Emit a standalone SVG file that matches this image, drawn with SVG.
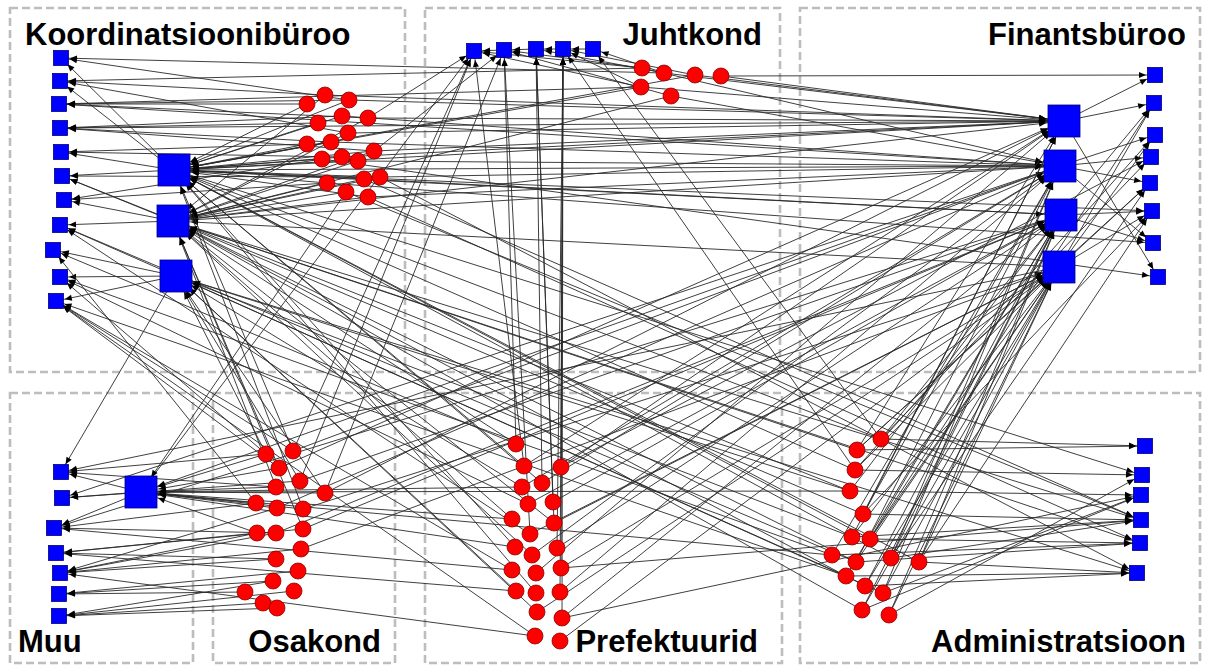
<svg xmlns="http://www.w3.org/2000/svg" width="1206" height="666" viewBox="0 0 1206 666">
<style>
.box{fill:none;stroke:#bdbdbd;stroke-width:2.6;stroke-dasharray:8 4}
.e path{fill:none;stroke:#2a2a2a;stroke-width:0.9}
.sq{fill:#0000ff;stroke:#00007a;stroke-width:0.8}
.ci{fill:#ff0000;stroke:#8a0000;stroke-width:0.8}
.lb{font-family:"Liberation Sans",Arial,sans-serif;font-weight:bold;font-size:31px;fill:#000}
</style>
<defs>
<marker id="s" markerUnits="userSpaceOnUse" markerWidth="7" markerHeight="6" refX="16" refY="3" orient="auto" overflow="visible"><path d="M0,0L7,3L0,6z" fill="#000"/></marker>
<marker id="b" markerUnits="userSpaceOnUse" markerWidth="7" markerHeight="6" refX="25" refY="3" orient="auto" overflow="visible"><path d="M0,0L7,3L0,6z" fill="#000"/></marker>
</defs>
<rect width="1206" height="666" fill="#fff"/>
<g id="groups">
<rect class="box" x="10" y="8" width="395" height="364"/>
<rect class="box" x="425" y="8" width="355" height="364"/>
<rect class="box" x="800" y="8" width="400" height="364"/>
<rect class="box" x="10" y="393" width="183" height="270"/>
<rect class="box" x="213" y="393" width="182" height="270"/>
<rect class="box" x="425" y="393" width="357" height="270"/>
<rect class="box" x="800" y="393" width="400" height="270"/>
</g>
<g id="connectors" class="e">
<g marker-end="url(#s)">
<path d="M307 104L59 104"/><path d="M325 95L60 81"/><path d="M349 100L59 104"/><path d="M318 123L60 128"/><path d="M342 116L60 128"/><path d="M368 118L59 104"/><path d="M307 144L61 152"/><path d="M331 142L60 128"/><path d="M322 159L64 200"/><path d="M374 151L60 128"/><path d="M327 183L64 200"/><path d="M348 133L60 81"/><path d="M342 157L61 152"/><path d="M349 100L61 58"/><path d="M380 177L62 176"/>
<path d="M174 170L61 58"/><path d="M174 170L60 81"/><path d="M174 170L61 152"/><path d="M174 170L62 176"/><path d="M173 221L64 200"/><path d="M173 221L60 225"/><path d="M176 276L53 250"/><path d="M176 276L60 277"/><path d="M173 221L62 176"/><path d="M176 276L60 225"/><path d="M176 276L56 301"/>
<path d="M642 68L60 81"/><path d="M664 73L61 58"/><path d="M641 87L59 104"/><path d="M1064 121L60 128"/><path d="M1060 166L59 104"/>
<path d="M528 504L60 277"/><path d="M512 570L56 301"/><path d="M530 534L60 225"/><path d="M535 636L56 301"/><path d="M516 444L53 250"/>
<path d="M266 454L60 277"/><path d="M279 468L56 301"/><path d="M256 503L53 250"/><path d="M293 451L56 301"/>
<path d="M832 555L60 277"/><path d="M856 562L60 225"/><path d="M850 491L62 176"/><path d="M846 576L56 301"/>
<path d="M593 49L563 49"/><path d="M563 49L536 49"/><path d="M536 49L504 50"/><path d="M504 50L474 51"/>
<path d="M642 68L474 51"/><path d="M642 68L504 50"/><path d="M641 87L474 51"/><path d="M664 73L536 49"/><path d="M671 96L504 50"/><path d="M641 87L563 49"/><path d="M695 75L563 49"/><path d="M664 73L593 49"/>
<path d="M368 118L474 51"/><path d="M374 151L504 50"/>
<path d="M561 467L563 49"/><path d="M557 548L563 49"/><path d="M561 568L563 49"/><path d="M554 523L536 49"/><path d="M553 502L536 49"/><path d="M560 592L563 49"/><path d="M516 444L504 50"/><path d="M524 466L474 51"/><path d="M542 483L536 49"/><path d="M562 618L563 49"/><path d="M530 534L504 50"/>
<path d="M293 451L474 51"/><path d="M300 481L474 51"/><path d="M325 493L504 50"/><path d="M141 492L474 51"/>
<path d="M855 470L563 49"/><path d="M881 439L593 49"/>
<path d="M1064 121L1155 75"/><path d="M1064 121L1154 103"/><path d="M1060 166L1151 157"/><path d="M1060 166L1150 183"/><path d="M1061 215L1153 243"/><path d="M1061 215L1152 211"/><path d="M1059 267L1155 135"/><path d="M1059 267L1150 183"/><path d="M1060 166L1155 135"/><path d="M1061 215L1154 103"/><path d="M1059 267L1154 103"/><path d="M1064 121L1158 277"/><path d="M1060 166L1153 243"/><path d="M1059 267L1152 211"/>
<path d="M721 76L1155 75"/>
<path d="M881 439L1151 157"/><path d="M857 450L1150 183"/><path d="M863 514L1152 211"/><path d="M855 470L1155 135"/><path d="M870 539L1154 103"/><path d="M891 558L1150 183"/><path d="M919 562L1152 211"/><path d="M561 467L1151 157"/>
<path d="M322 159L1158 277"/><path d="M327 183L1153 243"/><path d="M174 170L1152 211"/>
<path d="M141 492L61 472"/><path d="M141 492L62 498"/><path d="M141 492L54 528"/>
<path d="M256 503L54 528"/><path d="M257 533L56 553"/><path d="M276 559L60 573"/><path d="M273 581L59 594"/><path d="M245 592L59 594"/><path d="M263 603L59 616"/><path d="M277 608L59 616"/><path d="M301 549L60 573"/><path d="M276 533L54 528"/><path d="M276 487L61 472"/><path d="M266 454L61 472"/><path d="M277 508L60 573"/><path d="M303 529L56 553"/><path d="M294 591L59 616"/><path d="M298 571L59 594"/><path d="M257 533L60 573"/><path d="M276 559L56 553"/><path d="M273 581L59 616"/><path d="M276 533L60 573"/><path d="M300 481L62 498"/>
<path d="M535 636L60 573"/><path d="M516 591L56 553"/><path d="M512 570L54 528"/>
<path d="M1059 267L61 472"/><path d="M1060 166L62 498"/><path d="M176 276L61 472"/><path d="M1061 215L54 528"/>
<path d="M881 439L1145 446"/><path d="M855 470L1142 475"/><path d="M850 491L1141 495"/><path d="M863 514L1141 520"/><path d="M832 555L1140 543"/><path d="M919 562L1137 573"/><path d="M846 576L1137 573"/><path d="M856 562L1140 543"/><path d="M891 558L1141 520"/><path d="M883 593L1141 495"/><path d="M889 615L1142 475"/><path d="M852 537L1141 520"/><path d="M865 586L1137 573"/><path d="M862 610L1141 495"/><path d="M857 450L1145 446"/><path d="M870 539L1140 543"/>
<path d="M368 197L1140 543"/><path d="M380 177L1137 573"/><path d="M364 179L1141 520"/><path d="M346 192L1141 520"/>
<path d="M173 221L1140 543"/><path d="M176 276L1137 573"/><path d="M174 170L1142 475"/><path d="M173 221L1141 520"/>
<path d="M562 618L1141 495"/><path d="M561 568L1141 520"/>
</g>
<g marker-end="url(#b)">
<path d="M307 104L174 170"/><path d="M318 123L174 170"/><path d="M342 116L174 170"/><path d="M307 144L174 170"/><path d="M331 142L174 170"/><path d="M322 159L174 170"/><path d="M342 157L174 170"/><path d="M358 161L174 170"/><path d="M374 151L174 170"/><path d="M327 183L174 170"/><path d="M364 179L174 170"/><path d="M380 177L174 170"/>
<path d="M346 192L173 221"/><path d="M368 197L173 221"/><path d="M368 118L173 221"/><path d="M348 133L173 221"/><path d="M358 161L173 221"/><path d="M374 151L173 221"/><path d="M327 183L173 221"/><path d="M380 177L173 221"/><path d="M349 100L174 170"/><path d="M325 95L173 221"/><path d="M364 179L173 221"/><path d="M368 197L174 170"/>
<path d="M641 87L174 170"/><path d="M671 96L173 221"/><path d="M695 75L174 170"/>
<path d="M1064 121L174 170"/><path d="M1060 166L174 170"/><path d="M1060 166L173 221"/><path d="M1061 215L174 170"/><path d="M1059 267L173 221"/>
<path d="M516 444L173 221"/><path d="M524 466L174 170"/><path d="M522 487L176 276"/><path d="M512 519L173 221"/><path d="M515 547L174 170"/><path d="M516 591L176 276"/><path d="M532 555L173 221"/><path d="M537 612L176 276"/><path d="M536 593L174 170"/><path d="M542 483L174 170"/><path d="M554 523L173 221"/>
<path d="M266 454L176 276"/><path d="M279 468L173 221"/><path d="M293 451L174 170"/><path d="M300 481L176 276"/><path d="M276 487L173 221"/><path d="M303 509L174 170"/><path d="M303 529L173 221"/><path d="M325 493L176 276"/>
<path d="M881 439L174 170"/><path d="M857 450L173 221"/><path d="M855 470L174 170"/><path d="M850 491L176 276"/><path d="M863 514L173 221"/><path d="M852 537L176 276"/><path d="M846 576L176 276"/><path d="M870 539L174 170"/>
<path d="M856 562L173 221"/><path d="M891 558L174 170"/><path d="M865 586L173 221"/><path d="M883 593L176 276"/><path d="M919 562L174 170"/><path d="M862 610L173 221"/>
<path d="M349 100L1064 121"/><path d="M368 118L1064 121"/><path d="M348 133L1064 121"/><path d="M374 151L1064 121"/><path d="M358 161L1060 166"/><path d="M380 177L1060 166"/><path d="M331 142L1060 166"/><path d="M342 157L1064 121"/><path d="M342 116L1060 166"/><path d="M364 179L1061 215"/><path d="M325 95L1064 121"/><path d="M368 197L1060 166"/>
<path d="M664 73L1064 121"/><path d="M695 75L1064 121"/><path d="M721 76L1064 121"/><path d="M671 96L1060 166"/><path d="M641 87L1064 121"/><path d="M642 68L1060 166"/>
<path d="M173 221L1064 121"/>
<path d="M561 467L1064 121"/><path d="M542 483L1060 166"/><path d="M553 502L1061 215"/><path d="M554 523L1059 267"/><path d="M557 548L1061 215"/><path d="M561 568L1059 267"/><path d="M560 592L1060 166"/><path d="M562 618L1061 215"/><path d="M560 641L1059 267"/><path d="M536 573L1064 121"/><path d="M528 504L1061 215"/><path d="M530 534L1059 267"/><path d="M532 555L1060 166"/><path d="M524 466L1064 121"/><path d="M537 612L1059 267"/><path d="M522 487L1060 166"/>
<path d="M293 451L1060 166"/><path d="M300 481L1061 215"/><path d="M325 493L1064 121"/><path d="M303 509L1059 267"/><path d="M303 529L1061 215"/><path d="M301 549L1059 267"/><path d="M279 468L1064 121"/><path d="M277 508L1060 166"/><path d="M276 533L1061 215"/>
<path d="M881 439L1061 215"/><path d="M857 450L1059 267"/><path d="M855 470L1059 267"/><path d="M850 491L1061 215"/><path d="M863 514L1060 166"/><path d="M852 537L1059 267"/><path d="M870 539L1061 215"/><path d="M832 555L1060 166"/><path d="M856 562L1059 267"/><path d="M891 558L1061 215"/><path d="M919 562L1059 267"/><path d="M846 576L1061 215"/><path d="M865 586L1059 267"/><path d="M883 593L1060 166"/><path d="M862 610L1059 267"/><path d="M889 615L1061 215"/><path d="M857 450L1064 121"/><path d="M852 537L1064 121"/><path d="M856 562L1060 166"/><path d="M870 539L1059 267"/><path d="M865 586L1061 215"/><path d="M862 610L1061 215"/><path d="M891 558L1060 166"/><path d="M883 593L1059 267"/><path d="M889 615L1059 267"/><path d="M919 562L1061 215"/><path d="M863 514L1064 121"/>
<path d="M279 468L141 492"/><path d="M276 487L141 492"/><path d="M256 503L141 492"/><path d="M303 509L141 492"/><path d="M325 493L141 492"/><path d="M277 508L141 492"/><path d="M257 533L141 492"/><path d="M266 454L141 492"/>
<path d="M850 491L141 492"/><path d="M832 555L141 492"/><path d="M512 519L141 492"/><path d="M522 487L141 492"/><path d="M515 547L141 492"/><path d="M1060 166L141 492"/><path d="M346 192L141 492"/>
</g>
</g>
<g id="nodes">
<g id="k1"><rect class="sq" x="53.5" y="50.5" width="15" height="15"/></g>
<g id="k2"><rect class="sq" x="52.5" y="73.5" width="15" height="15"/></g>
<g id="k3"><rect class="sq" x="51.5" y="96.5" width="15" height="15"/></g>
<g id="k4"><rect class="sq" x="52.5" y="120.5" width="15" height="15"/></g>
<g id="k5"><rect class="sq" x="53.5" y="144.5" width="15" height="15"/></g>
<g id="k6"><rect class="sq" x="54.5" y="168.5" width="15" height="15"/></g>
<g id="k7"><rect class="sq" x="56.5" y="192.5" width="15" height="15"/></g>
<g id="k8"><rect class="sq" x="52.5" y="217.5" width="15" height="15"/></g>
<g id="k9"><rect class="sq" x="45.5" y="242.5" width="15" height="15"/></g>
<g id="k10"><rect class="sq" x="52.5" y="269.5" width="15" height="15"/></g>
<g id="k11"><rect class="sq" x="48.5" y="293.5" width="15" height="15"/></g>
<g id="K1"><rect class="sq" x="158" y="154" width="32" height="32"/></g>
<g id="K2"><rect class="sq" x="157" y="205" width="32" height="32"/></g>
<g id="K3"><rect class="sq" x="160" y="260" width="32" height="32"/></g>
<g id="c1"><circle class="ci" cx="307" cy="104" r="8"/></g>
<g id="c2"><circle class="ci" cx="325" cy="95" r="8"/></g>
<g id="c3"><circle class="ci" cx="349" cy="100" r="8"/></g>
<g id="c4"><circle class="ci" cx="318" cy="123" r="8"/></g>
<g id="c5"><circle class="ci" cx="342" cy="116" r="8"/></g>
<g id="c6"><circle class="ci" cx="368" cy="118" r="8"/></g>
<g id="c7"><circle class="ci" cx="348" cy="133" r="8"/></g>
<g id="c8"><circle class="ci" cx="307" cy="144" r="8"/></g>
<g id="c9"><circle class="ci" cx="331" cy="142" r="8"/></g>
<g id="c10"><circle class="ci" cx="322" cy="159" r="8"/></g>
<g id="c11"><circle class="ci" cx="342" cy="157" r="8"/></g>
<g id="c12"><circle class="ci" cx="358" cy="161" r="8"/></g>
<g id="c13"><circle class="ci" cx="374" cy="151" r="8"/></g>
<g id="c14"><circle class="ci" cx="327" cy="183" r="8"/></g>
<g id="c15"><circle class="ci" cx="364" cy="179" r="8"/></g>
<g id="c16"><circle class="ci" cx="380" cy="177" r="8"/></g>
<g id="c17"><circle class="ci" cx="346" cy="192" r="8"/></g>
<g id="c18"><circle class="ci" cx="368" cy="197" r="8"/></g>
<g id="j1"><rect class="sq" x="466.5" y="43.5" width="15" height="15"/></g>
<g id="j2"><rect class="sq" x="496.5" y="42.5" width="15" height="15"/></g>
<g id="j3"><rect class="sq" x="528.5" y="41.5" width="15" height="15"/></g>
<g id="j4"><rect class="sq" x="555.5" y="41.5" width="15" height="15"/></g>
<g id="j5"><rect class="sq" x="585.5" y="41.5" width="15" height="15"/></g>
<g id="h1"><circle class="ci" cx="642" cy="68" r="8"/></g>
<g id="h2"><circle class="ci" cx="664" cy="73" r="8"/></g>
<g id="h3"><circle class="ci" cx="695" cy="75" r="8"/></g>
<g id="h4"><circle class="ci" cx="721" cy="76" r="8"/></g>
<g id="h5"><circle class="ci" cx="641" cy="87" r="8"/></g>
<g id="h6"><circle class="ci" cx="671" cy="96" r="8"/></g>
<g id="F1"><rect class="sq" x="1048" y="105" width="32" height="32"/></g>
<g id="F2"><rect class="sq" x="1044" y="150" width="32" height="32"/></g>
<g id="F3"><rect class="sq" x="1045" y="199" width="32" height="32"/></g>
<g id="F4"><rect class="sq" x="1043" y="251" width="32" height="32"/></g>
<g id="f1"><rect class="sq" x="1147.5" y="67.5" width="15" height="15"/></g>
<g id="f2"><rect class="sq" x="1146.5" y="95.5" width="15" height="15"/></g>
<g id="f3"><rect class="sq" x="1147.5" y="127.5" width="15" height="15"/></g>
<g id="f4"><rect class="sq" x="1143.5" y="149.5" width="15" height="15"/></g>
<g id="f5"><rect class="sq" x="1142.5" y="175.5" width="15" height="15"/></g>
<g id="f6"><rect class="sq" x="1144.5" y="203.5" width="15" height="15"/></g>
<g id="f7"><rect class="sq" x="1145.5" y="235.5" width="15" height="15"/></g>
<g id="f8"><rect class="sq" x="1150.5" y="269.5" width="15" height="15"/></g>
<g id="m1"><rect class="sq" x="53.5" y="464.5" width="15" height="15"/></g>
<g id="m2"><rect class="sq" x="54.5" y="490.5" width="15" height="15"/></g>
<g id="m3"><rect class="sq" x="46.5" y="520.5" width="15" height="15"/></g>
<g id="m4"><rect class="sq" x="48.5" y="545.5" width="15" height="15"/></g>
<g id="m5"><rect class="sq" x="52.5" y="565.5" width="15" height="15"/></g>
<g id="m6"><rect class="sq" x="51.5" y="586.5" width="15" height="15"/></g>
<g id="m7"><rect class="sq" x="51.5" y="608.5" width="15" height="15"/></g>
<g id="M"><rect class="sq" x="125" y="476" width="32" height="32"/></g>
<g id="o1"><circle class="ci" cx="266" cy="454" r="8"/></g>
<g id="o2"><circle class="ci" cx="293" cy="451" r="8"/></g>
<g id="o3"><circle class="ci" cx="279" cy="468" r="8"/></g>
<g id="o4"><circle class="ci" cx="276" cy="487" r="8"/></g>
<g id="o5"><circle class="ci" cx="300" cy="481" r="8"/></g>
<g id="o6"><circle class="ci" cx="325" cy="493" r="8"/></g>
<g id="o7"><circle class="ci" cx="256" cy="503" r="8"/></g>
<g id="o8"><circle class="ci" cx="277" cy="508" r="8"/></g>
<g id="o9"><circle class="ci" cx="303" cy="509" r="8"/></g>
<g id="o10"><circle class="ci" cx="257" cy="533" r="8"/></g>
<g id="o11"><circle class="ci" cx="276" cy="533" r="8"/></g>
<g id="o12"><circle class="ci" cx="303" cy="529" r="8"/></g>
<g id="o13"><circle class="ci" cx="301" cy="549" r="8"/></g>
<g id="o14"><circle class="ci" cx="276" cy="559" r="8"/></g>
<g id="o15"><circle class="ci" cx="298" cy="571" r="8"/></g>
<g id="o16"><circle class="ci" cx="273" cy="581" r="8"/></g>
<g id="o17"><circle class="ci" cx="294" cy="591" r="8"/></g>
<g id="o18"><circle class="ci" cx="245" cy="592" r="8"/></g>
<g id="o19"><circle class="ci" cx="263" cy="603" r="8"/></g>
<g id="o20"><circle class="ci" cx="277" cy="608" r="8"/></g>
<g id="p1"><circle class="ci" cx="516" cy="444" r="8"/></g>
<g id="p2"><circle class="ci" cx="524" cy="466" r="8"/></g>
<g id="p3"><circle class="ci" cx="561" cy="467" r="8"/></g>
<g id="p4"><circle class="ci" cx="522" cy="487" r="8"/></g>
<g id="p5"><circle class="ci" cx="542" cy="483" r="8"/></g>
<g id="p6"><circle class="ci" cx="528" cy="504" r="8"/></g>
<g id="p7"><circle class="ci" cx="553" cy="502" r="8"/></g>
<g id="p8"><circle class="ci" cx="512" cy="519" r="8"/></g>
<g id="p9"><circle class="ci" cx="554" cy="523" r="8"/></g>
<g id="p10"><circle class="ci" cx="530" cy="534" r="8"/></g>
<g id="p11"><circle class="ci" cx="515" cy="547" r="8"/></g>
<g id="p12"><circle class="ci" cx="557" cy="548" r="8"/></g>
<g id="p13"><circle class="ci" cx="532" cy="555" r="8"/></g>
<g id="p14"><circle class="ci" cx="512" cy="570" r="8"/></g>
<g id="p15"><circle class="ci" cx="536" cy="573" r="8"/></g>
<g id="p16"><circle class="ci" cx="561" cy="568" r="8"/></g>
<g id="p17"><circle class="ci" cx="516" cy="591" r="8"/></g>
<g id="p18"><circle class="ci" cx="536" cy="593" r="8"/></g>
<g id="p19"><circle class="ci" cx="560" cy="592" r="8"/></g>
<g id="p20"><circle class="ci" cx="537" cy="612" r="8"/></g>
<g id="p21"><circle class="ci" cx="562" cy="618" r="8"/></g>
<g id="p22"><circle class="ci" cx="535" cy="636" r="8"/></g>
<g id="p23"><circle class="ci" cx="560" cy="641" r="8"/></g>
<g id="d1"><circle class="ci" cx="881" cy="439" r="8"/></g>
<g id="d2"><circle class="ci" cx="857" cy="450" r="8"/></g>
<g id="d3"><circle class="ci" cx="855" cy="470" r="8"/></g>
<g id="d4"><circle class="ci" cx="850" cy="491" r="8"/></g>
<g id="d5"><circle class="ci" cx="863" cy="514" r="8"/></g>
<g id="d6"><circle class="ci" cx="852" cy="537" r="8"/></g>
<g id="d7"><circle class="ci" cx="870" cy="539" r="8"/></g>
<g id="d8"><circle class="ci" cx="832" cy="555" r="8"/></g>
<g id="d9"><circle class="ci" cx="856" cy="562" r="8"/></g>
<g id="d10"><circle class="ci" cx="891" cy="558" r="8"/></g>
<g id="d11"><circle class="ci" cx="919" cy="562" r="8"/></g>
<g id="d12"><circle class="ci" cx="846" cy="576" r="8"/></g>
<g id="d13"><circle class="ci" cx="865" cy="586" r="8"/></g>
<g id="d14"><circle class="ci" cx="883" cy="593" r="8"/></g>
<g id="d15"><circle class="ci" cx="862" cy="610" r="8"/></g>
<g id="d16"><circle class="ci" cx="889" cy="615" r="8"/></g>
<g id="a1"><rect class="sq" x="1137.5" y="438.5" width="15" height="15"/></g>
<g id="a2"><rect class="sq" x="1134.5" y="467.5" width="15" height="15"/></g>
<g id="a3"><rect class="sq" x="1133.5" y="487.5" width="15" height="15"/></g>
<g id="a4"><rect class="sq" x="1133.5" y="512.5" width="15" height="15"/></g>
<g id="a5"><rect class="sq" x="1132.5" y="535.5" width="15" height="15"/></g>
<g id="a6"><rect class="sq" x="1129.5" y="565.5" width="15" height="15"/></g>
</g>
<g id="labels">
<text class="lb" x="25" y="45">Koordinatsioonibüroo</text>
<text class="lb" x="762" y="45" text-anchor="end">Juhtkond</text>
<text class="lb" x="1186" y="45" text-anchor="end">Finantsbüroo</text>
<text class="lb" x="18" y="652">Muu</text>
<text class="lb" x="381" y="652" text-anchor="end">Osakond</text>
<text class="lb" x="758" y="652" text-anchor="end">Prefektuurid</text>
<text class="lb" x="1186" y="652" text-anchor="end">Administratsioon</text>
</g>
</svg>
